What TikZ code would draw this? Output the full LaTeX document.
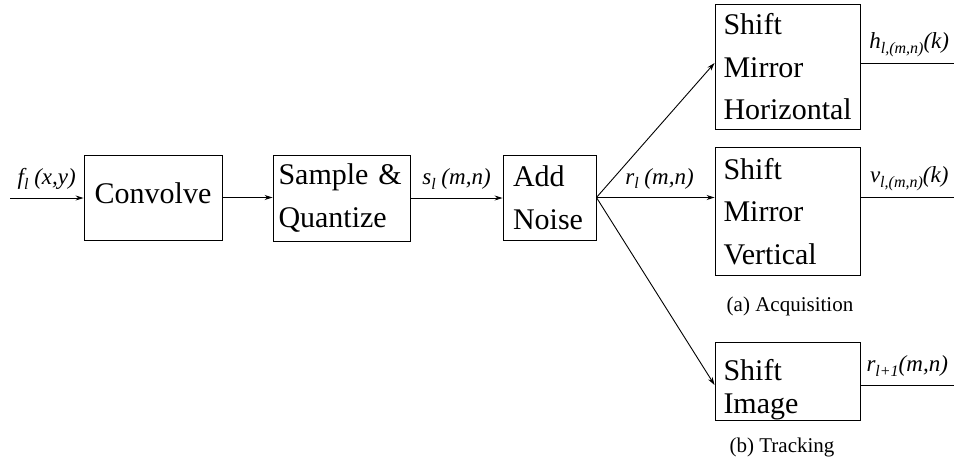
\documentclass[tikz,border=0pt]{standalone}
\usepackage{fontspec}
\setmainfont{Liberation Serif}
\usetikzlibrary{arrows.meta}
\newcommand\lsb[1]{\raisebox{-0.45ex}{\fontsize{16}{16}\selectfont #1}}
\begin{document}
\begin{tikzpicture}[x=1pt,y=-1pt,
  blk/.style={draw, line width=0.9pt, inner xsep=8pt, inner ysep=0pt,
    font=\fontsize{30}{42.5}\selectfont, align=left},
  lab/.style={font=\fontsize{23}{26}\selectfont\itshape, inner sep=0pt},
  captext/.style={font=\fontsize{21}{24}\selectfont, inner sep=0pt},
  con/.style={line width=0.9pt},
  arr/.style={con, -{Stealth[length=8pt,width=5pt]}}]
\useasboundingbox (0,0) rectangle (954,461);

\node[draw, line width=0.9pt, font=\fontsize{30}{42.5}\selectfont, minimum width=138pt, minimum height=85pt, text depth=9pt] (conv) at (153,197.5) {Convolve};
\node[blk, minimum width=137pt, minimum height=86pt, text width=126pt, inner xsep=5.5pt] (samp) at (341.5,198) {Sample \&\\Quantize};
\node[blk, minimum width=93pt, minimum height=85pt, text width=73pt, inner xsep=10pt] (noise) at (549.5,197.5) {Add\\Noise};
\node[blk, minimum width=145pt, minimum height=125pt, text width=128pt, inner xsep=8.5pt] (hor) at (787.5,67) {Shift\\Mirror\\Horizontal};
\node[blk, minimum width=145pt, minimum height=128pt, text width=128pt, inner xsep=8.5pt] (ver) at (787.5,211.5) {Shift\\Mirror\\Vertical};
\node[blk, font=\fontsize{30}{33}\selectfont, minimum width=145pt, minimum height=78pt, text width=128pt, inner xsep=8.5pt] (img) at (787.5,381) {\rule{0pt}{37.5pt}Shift\\Image};

\coordinate (in) at (10,198);
\coordinate (oh) at (954,63);
\coordinate (ov) at (954,197.5);
\coordinate (oi) at (954,385);

\draw[arr] (in) -- (in -| conv.west) node[lab, midway, above=8pt] (lf) {f\lsb{l} (x,y)};
\draw[arr] (conv.east) -- (conv.east -| samp.west);
\draw[arr] (samp.east) -- (samp.east -| noise.west) node[lab, midway, above=8pt] (ls) {s\lsb{l} (m,n)};
\draw[arr] (noise.east) -- (hor.west |- oh);
\draw[arr] (noise.east) -- (noise.east -| ver.west) node[lab, midway, above=8pt, xshift=4pt] (lr) {r\lsb{l} (m,n)};
\draw[arr] (noise.east) -- (img.west |- oi);

\draw[con] (hor.east |- oh) -- (oh) node[lab, midway, above=6pt, xshift=2pt] (lh) {h\lsb{l,(m,n)}(k)};
\draw[con] (ver.east |- ov) -- (ov) node[lab, midway, above=6pt, xshift=2pt] (lv) {v\lsb{l,(m,n)}(k)};
\draw[con] (img.east |- oi) -- (oi) node[lab, midway, above=8pt] (li) {r\lsb{l+1}(m,n)};

\node[captext] (capa) at (790,306) {(a) Acquisition};
\node[captext] (capb) at (782,447) {(b) Tracking};
\end{tikzpicture}
\end{document}
